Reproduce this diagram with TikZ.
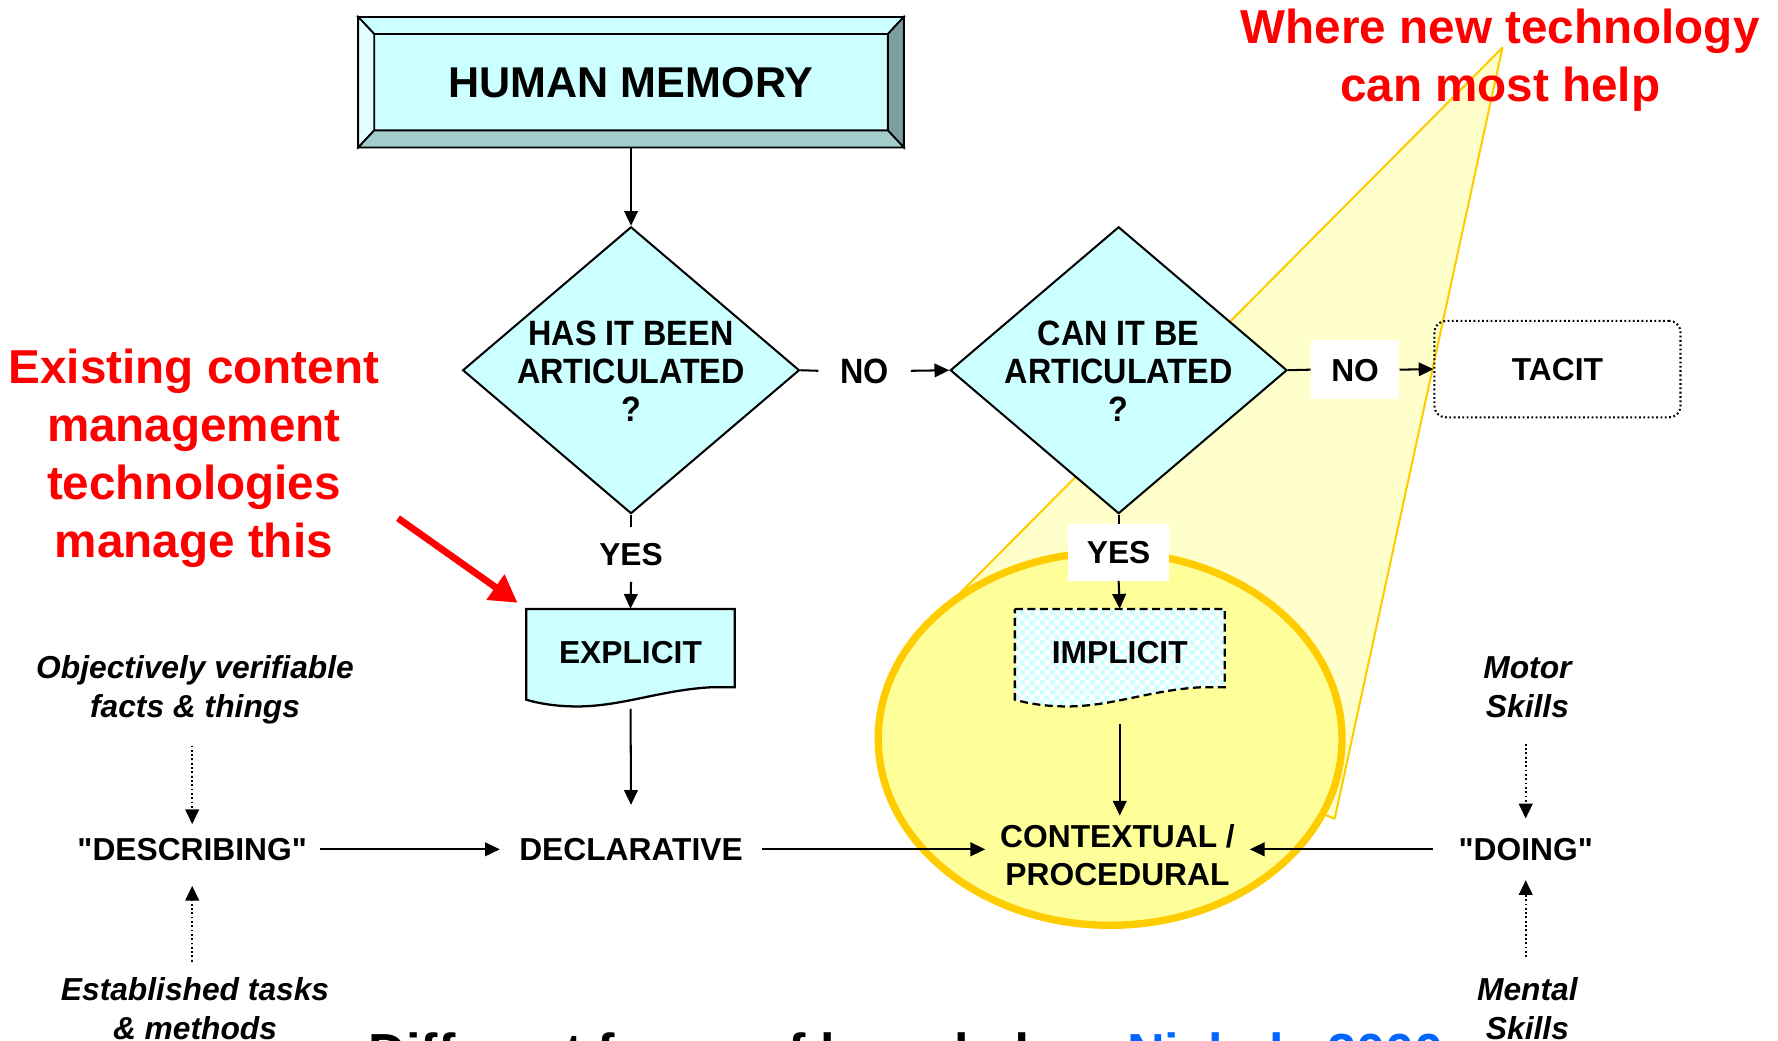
\documentclass[tikz,border=0pt]{standalone}
\usepackage{fontspec}
\setmainfont{Liberation Sans}[Ligatures=TeXOff]
\newfontfamily\diafont[FakeStretch=0.92]{Liberation Sans}
\usetikzlibrary{arrows.meta,shapes.geometric,patterns}
\definecolor{cy}{RGB}{204,255,255}
\definecolor{cylight}{RGB}{226,255,255}
\definecolor{bevR}{RGB}{125,158,158}
\definecolor{bevB}{RGB}{163,204,204}
\definecolor{gold}{RGB}{255,204,0}
\definecolor{ellfill}{RGB}{255,255,153}
\definecolor{trifill}{RGB}{255,255,204}
\definecolor{linkblue}{RGB}{0,102,255}
\definecolor{redtxt}{RGB}{255,0,0}
\pgfdeclarepatternformonly{bigchecker}{\pgfpointorigin}{\pgfqpoint{9pt}{9pt}}{\pgfqpoint{9pt}{9pt}}{%
  \pgfpathrectangle{\pgfpointorigin}{\pgfqpoint{4.5pt}{4.5pt}}%
  \pgfpathrectangle{\pgfqpoint{4.5pt}{4.5pt}}{\pgfqpoint{4.5pt}{4.5pt}}%
  \pgfusepath{fill}}
\tikzset{
  conn/.style={line width=1.8pt, draw=black},
  arr/.style={conn, -{Triangle[length=13pt,width=12pt]}},
  dotarr/.style={line width=1.8pt, dash pattern=on 1.6pt off 2.2pt, -{Triangle[length=13pt,width=12pt]}},
  lbl/.style={font=\fontsize{28}{33.5}\selectfont\bfseries, inner sep=0pt, align=center},
  caps/.style={lbl, text height=20pt, text depth=0pt},
  dia/.style={font=\diafont\fontsize{31}{33.5}\selectfont\bfseries, inner sep=0pt, align=center},
  diacaps/.style={dia, text height=22pt, text depth=0pt},
  ital/.style={font=\fontsize{28}{34}\selectfont\bfseries\itshape, inner sep=0pt, align=center},
  redlbl/.style={font=\fontsize{42}{51}\selectfont\bfseries, text=redtxt, inner sep=0pt, align=center},
  decision/.style={diamond, draw=black, line width=1.8pt, fill=cy, minimum width=297pt, minimum height=253pt, inner sep=0pt},
  bevel/.style={draw=black, line width=1.6pt, line join=miter},
  docline/.style={draw=black, line width=2pt},
}
\begin{document}
\begin{tikzpicture}[x=1pt,y=-1pt]
\useasboundingbox (0,0) rectangle (1568,918);
\fill[white] (0,0) rectangle (1568,918);

% yellow callout and ellipse
\coordinate (apex) at (1325,42);
\coordinate (triL) at (800,570);
\coordinate (triR) at (1177,722);
\filldraw[fill=trifill, draw=gold, line width=1.8pt, line join=round] (apex) -- (triL) -- (triR) -- cycle;
\node[ellipse, draw=gold, fill=ellfill, line width=6.5pt, minimum width=409pt, minimum height=329pt, inner sep=0pt] (ell) at (979,651.5) {};

% HUMAN MEMORY bevelled box
\coordinate (o1) at (316,15); \coordinate (o2) at (797,15);
\coordinate (o3) at (797,130); \coordinate (o4) at (316,130);
\coordinate (i1) at (330,30); \coordinate (i2) at (783,30);
\coordinate (i3) at (783,115); \coordinate (i4) at (330,115);
\fill[cy] (i1) rectangle (i3);
\filldraw[bevel, fill=cy] (o1) -- (o2) -- (i2) -- (i1) -- cycle;
\filldraw[bevel, fill=cylight] (o1) -- (i1) -- (i4) -- (o4) -- cycle;
\filldraw[bevel, fill=bevR] (o2) -- (o3) -- (i3) -- (i2) -- cycle;
\filldraw[bevel, fill=bevB] (o4) -- (i4) -- (i3) -- (o3) -- cycle;
\draw[bevel] (o1) rectangle (o3);
\node[font=\fontsize{38}{40}\selectfont\bfseries, text height=27pt, text depth=0pt, inner sep=0pt,
      minimum width=481pt, minimum height=115pt] (hm) at (556.5,72.5) {HUMAN MEMORY};

% decisions
\node[decision] (d1) at (556.5,326.5) {};
\node[dia] (d1t) at (556.5,327.5) {HAS IT BEEN\\ARTICULATED\\?};
\node[decision] (d2) at (986.5,326.5) {};
\node[dia] (d2t) at (986.5,327.5) {CAN IT BE\\ARTICULATED\\?};

\draw[arr] (hm.south) -- (d1.north);

% NO branches
\node[diacaps, minimum width=81pt] (no1) at (762.5,327) {NO};
\draw[conn] (d1.east) -- (no1.west);
\draw[arr] (no1.east) -- (d2.west);

\node[caps, draw, rounded corners=10pt, dash pattern=on 1.6pt off 2.2pt, line width=1.8pt,
      minimum width=217pt, minimum height=85pt] (tacit) at (1373.5,325.5) {TACIT};
\node[caps, fill=white, minimum width=78pt, minimum height=52pt] (no2) at (1195,326) {NO};
\draw[conn] (d2.east) -- (no2.west);
\draw[arr] (no2.east) -- (tacit.west);

% EXPLICIT document
\path[docline, fill=cy, shift={(464,537)}] (0,0) -- (184,0) -- (184,69) -- (165,69)
  .. controls (120,71) and (85,86) .. (45,86) .. controls (25,86) and (10,83) .. (0,80) -- cycle;
\node[caps, minimum width=184pt, minimum height=76pt] (ex) at (556,575) {EXPLICIT};

% IMPLICIT document
\path[docline, preaction={fill=white}, pattern=bigchecker, pattern color=cy, dash pattern=on 7pt off 4pt, shift={(895,537)}]
  (0,0) -- (185,0) -- (185,69) -- (166,69)
  .. controls (121,71) and (86,86) .. (46,86) .. controls (26,86) and (10,83) .. (0,80) -- cycle;
\node[caps, minimum width=185pt, minimum height=76pt] (im) at (987.5,575) {IMPLICIT};

% YES branches
\node[caps, minimum height=48pt] (yes1) at (556.5,489) {YES};
\draw[conn] (d1.south) -- (yes1.north);
\draw[arr] (yes1.south) -- (ex.north);
\node[caps, fill=white, minimum width=89pt, minimum height=50pt] (yes2) at (986.5,487) {YES};
\draw[conn] (d2.south) -- (yes2.north);
\draw[arr] (yes2.south) -- (im.north);

% bottom row
\node[caps, inner xsep=11pt, inner ysep=12pt] (desc) at (169.5,749) {"DESCRIBING"};
\node[caps, inner xsep=17pt, inner ysep=29pt] (decl) at (556.5,749) {DECLARATIVE};
\node[lbl, inner xsep=13pt, inner ysep=8pt] (ctx) at (985.5,754.5) {CONTEXTUAL /\\PROCEDURAL};
\node[caps, inner xsep=22pt, inner ysep=17pt] (doing) at (1345.5,749) {"DOING"};

\draw[arr] (desc.east) -- (decl.west);
\draw[arr] (decl.east) -- (decl.east -| ctx.west);
\draw[arr] (doing.west) -- (doing.west -| ctx.east);
\draw[arr, shorten <=12pt] (ex.south) -- (decl.north);
\draw[arr, shorten <=25pt] (im.south) -- (im.south |- ctx.north);

% side labels
\node[ital, anchor=north] (obj) at (172,578) {Objectively verifiable\\facts \& things};
\node[ital, anchor=north] (est) at (172,862) {Established tasks\\\& methods};
\node[ital, anchor=north] (motor) at (1347,579) {Motor\\Skills};
\node[ital, anchor=north] (mental) at (1347,862) {Mental\\Skills};

\draw[dotarr, shorten <=19pt] (obj.south -| desc.north) -- (desc.north);
\draw[dotarr, shorten <=14pt, shorten >=10pt] (est.north -| desc.south) -- (desc.south);
\draw[dotarr, shorten <=23pt] (motor.south -| doing.north) -- (doing.north);
\draw[dotarr, shorten <=18pt] (mental.north -| doing.south) -- (doing.south);

% red annotations
\node[redlbl, anchor=north] (red1) at (171,308) {Existing content\\management\\technologies\\manage this};
\node[redlbl, anchor=north] (red2) at (1323,8) {Where new technology\\can most help};
\coordinate (ra) at (351,457);
\draw[line width=6pt, redtxt, -{Triangle[length=24pt,width=26pt]}, shorten >=9pt] (ra) -- (ex.north west);

% clipped title
\begin{scope}
\clip (0,0) rectangle (1568,918);
\node[anchor=base west, inner sep=0pt, font=\fontsize{46}{50}\selectfont\bfseries] (title) at (325,944)
  {Different forms of knowledge: \textcolor{linkblue}{Nickols 2000}};
\end{scope}
\end{tikzpicture}
\end{document}
